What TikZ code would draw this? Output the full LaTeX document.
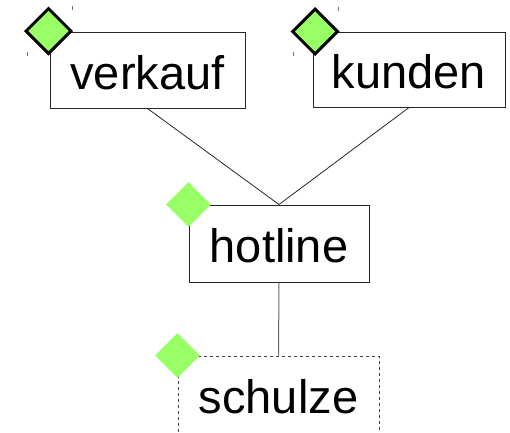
\documentclass[tikz,border=0pt]{standalone}
\usepackage{fontspec}
\setmainfont{Liberation Sans}
\usetikzlibrary{shapes.geometric}
\definecolor{mark}{RGB}{153,255,102}
\begin{document}
\begin{tikzpicture}[x=1pt,y=-1pt,
  entity/.style={draw=black!85, line width=1pt, rectangle, inner sep=0pt,
    text height=38pt, text depth=0pt,
    font=\fontsize{47}{56}\selectfont},
  optional/.style={entity, draw=black!75, dash pattern=on 3pt off 3pt},
  flag/.style={diamond, aspect=1, inner sep=0pt, minimum width=46pt,
    minimum height=46pt, fill=mark, draw=black, line width=3pt},
  softflag/.style={diamond, aspect=1, inner sep=0pt, minimum width=45pt,
    minimum height=45pt, fill=mark},
  link/.style={draw=black!85, line width=0.8pt},
  tick/.style={draw=black!55, line width=1pt}]
\useasboundingbox (0,0) rectangle (510,432);

% the four boxes
\node[entity, minimum width=195pt, minimum height=76pt] (verkauf) at (147.5,70) {verkauf};
\node[entity, minimum width=192pt, minimum height=75pt] (kunden) at (409,69.5) {kunden};
\node[entity, minimum width=180pt, minimum height=77pt] (hotline) at (279,243.5) {hotline};
\node[optional, minimum width=201pt, minimum height=77pt] (schulze) at (278.5,394.5) {schulze};

% connectors
\draw[link] (verkauf.south) -- (hotline.north);
\draw[link] (kunden.south) -- (hotline.north);
\draw[link, draw=black!60, line width=1pt] (hotline.south) -- (schulze.north);

% corner markers
\node[flag] (fv) at (48.5,31) {};
\node[flag] (fk) at (315,31.5) {};
\node[softflag] (fh) at (hotline.north west) {};
\node[softflag] (fs) at (schulze.north west) {};

% small handle ticks
\draw[tick] (72,6) -- (72,10);
\draw[tick] (27,52) -- (27,56);
\draw[tick] (338,7) -- (338,11);
\draw[tick] (293,52) -- (293,56);
\end{tikzpicture}
\end{document}
